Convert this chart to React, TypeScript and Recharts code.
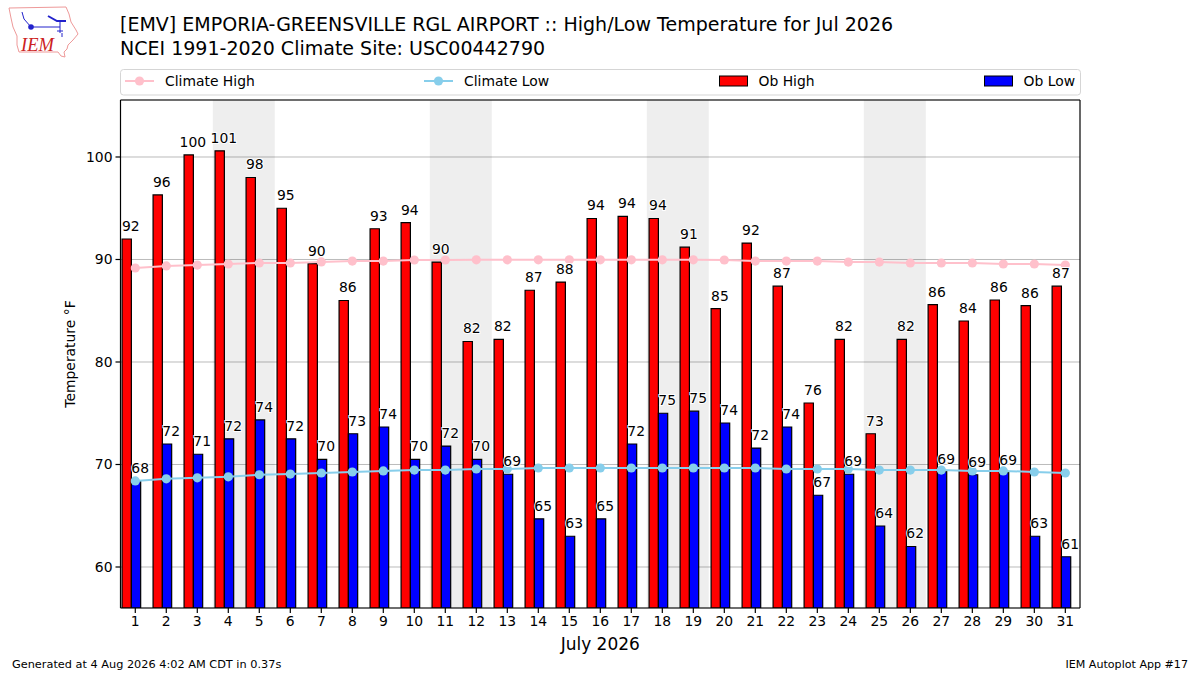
import {
  Bar,
  CartesianGrid,
  ComposedChart,
  LabelList,
  Line,
  ReferenceArea,
  XAxis,
  YAxis,
} from "recharts";

const days = [1, 2, 3, 4, 5, 6, 7, 8, 9, 10, 11, 12, 13, 14, 15, 16, 17, 18, 19, 20, 21, 22, 23, 24, 25, 26, 27, 28, 29, 30, 31];
const obHigh = [92, 96.3, 100.2, 100.6, 98, 95, 89.6, 86, 93, 93.6, 89.75, 82, 82.2, 87, 87.8, 94, 94.2, 94, 91.2, 85.2, 91.6, 87.4, 76, 82.2, 73, 82.2, 85.6, 84, 86.05, 85.5, 87.4];
const obLow = [68.4, 72, 71, 72.5, 74.35, 72.5, 70.5, 73, 73.66, 70.5, 71.8, 70.5, 69.05, 64.7, 63, 64.7, 72, 75, 75.2, 74.05, 71.6, 73.66, 67, 69.05, 64, 62, 69.3, 69, 69.2, 63, 61];
const highLabels = [92, 96, 100, 101, 98, 95, 90, 86, 93, 94, 90, 82, 82, 87, 88, 94, 94, 94, 91, 85, 92, 87, 76, 82, 73, 82, 86, 84, 86, 86, 87];
const lowLabels = [68, 72, 71, 72, 74, 72, 70, 73, 74, 70, 72, 70, 69, 65, 63, 65, 72, 75, 75, 74, 72, 74, 67, 69, 64, 62, 69, 69, 69, 63, 61];
const climateHigh = [89.17, 89.37, 89.46, 89.56, 89.66, 89.66, 89.76, 89.85, 89.85, 89.95, 89.95, 89.97, 89.97, 89.97, 89.97, 89.97, 89.97, 89.97, 89.97, 89.95, 89.85, 89.85, 89.85, 89.75, 89.75, 89.66, 89.66, 89.66, 89.56, 89.56, 89.46];
const climateLow = [68.4, 68.6, 68.7, 68.8, 69.0, 69.07, 69.17, 69.27, 69.37, 69.46, 69.46, 69.56, 69.56, 69.66, 69.66, 69.66, 69.66, 69.66, 69.66, 69.66, 69.66, 69.56, 69.56, 69.56, 69.46, 69.46, 69.46, 69.37, 69.37, 69.27, 69.17];
const weekends = [[3.5, 5.5], [10.5, 12.5], [17.5, 19.5], [24.5, 26.5]];
const yTicks = [60, 70, 80, 90, 100];

const xDomain = [0.523, 31.473];
const yDomain = [56, 105.56];
const FONT = "'DejaVu Sans', sans-serif";

const table = days.map((day, i) => ({
  day,
  obHigh: obHigh[i],
  obLow: obLow[i],
  highLabel: highLabels[i],
  lowLabel: lowLabels[i],
  climateHigh: climateHigh[i],
  climateLow: climateLow[i],
}));

// bars sit a little left of the day tick in the original
const barCenter = (d: any) => d.day - 0.12;

function BarLabel(props: any) {
  const { x, y, width, value } = props;
  return (
    <text
      x={x + width - 0.5}
      y={y - 8}
      textAnchor="middle"
      fontSize={13.9}
      fontFamily={FONT}
      fill="#000"
      stroke="#fff"
      strokeWidth={2}
      paintOrder="stroke"
    >
      {value}
    </text>
  );
}

function YTitle() {
  return (
    <text
      x={75}
      y={354}
      transform="rotate(-90 75 354)"
      textAnchor="middle"
      fontSize={13.9}
      fontFamily={FONT}
      fill="#000"
    >
      Temperature °F
    </text>
  );
}

function Logo() {
  return (
    <svg width={90} height={62} style={{ position: "absolute", left: 0, top: 0 }}>
      <path
        d="M9 8 L66 7 L69 14 L71 22 L76 30 L78 34 L73 40 L68 45 L67 49 L64 52 L65 57 L61 56 L58 52 L19 52 L17 45 L17 36 L13 27 L11 18 Z"
        fill="none"
        stroke="#ee9999"
        strokeWidth={1}
      />
      <g stroke="#2222cc" fill="none" strokeWidth={1}>
        <path d="M22 12 L24 19 L31 27 L60 27" />
        <path d="M48 16 L57 21 L66 21" strokeWidth={2} />
        <path d="M60 21 L60 33 M57 31 L63 31 M62 33 L62 37" />
      </g>
      <circle cx={31} cy={27} r={2.8} fill="#2222cc" />
      <text x={21} y={51} fontFamily="'Liberation Serif', serif" fontStyle="italic" fontSize={18.5} fill="#cc2222">
        IEM
      </text>
    </svg>
  );
}

function LegendLine({ x, color, label }: { x: number; color: string; label: string }) {
  return (
    <>
      <line x1={x} x2={x + 29} y1={12} y2={12} stroke={color} strokeWidth={2} />
      <circle cx={x + 14.5} cy={12} r={4.6} fill={color} />
      <text x={x + 40} y={17} fontSize={13.9} fontFamily={FONT} fill="#000">
        {label}
      </text>
    </>
  );
}

function LegendBar({ x, color, label }: { x: number; color: string; label: string }) {
  return (
    <>
      <rect x={x} y={7} width={28} height={10} fill={color} stroke="#000" strokeWidth={1} />
      <text x={x + 39} y={17} fontSize={13.9} fontFamily={FONT} fill="#000">
        {label}
      </text>
    </>
  );
}

export default function App() {
  return (
    <div style={{ position: "absolute", left: 0, top: 0, width: 1200, height: 675, background: "#fff", fontFamily: FONT }}>
      <Logo />
      <div style={{ position: "absolute", left: 120, top: 13, fontSize: 19.03, lineHeight: "23.5px", whiteSpace: "nowrap", color: "#000" }}>
        [EMV] EMPORIA-GREENSVILLE RGL AIRPORT :: High/Low Temperature for Jul 2026
        <br />
        NCEI 1991-2020 Climate Site: USC00442790
      </div>

      <svg width={962} height={27} style={{ position: "absolute", left: 120, top: 69 }}>
        <rect x={0.5} y={0.5} width={960} height={25.5} rx={3} fill="#fff" stroke="#d5d5d5" />
        <LegendLine x={5} color="#FFC0CB" label="Climate High" />
        <LegendLine x={304} color="#87CEEB" label="Climate Low" />
        <LegendBar x={599.5} color="#FF0000" label="Ob High" />
        <LegendBar x={864.5} color="#0000FF" label="Ob Low" />
      </svg>

      <ComposedChart
        width={1200}
        height={675}
        data={table}
        barSize={9.3}
        barGap={0}
        margin={{ top: 99, right: 119, bottom: 0, left: 0 }}
        style={{ position: "absolute", left: 0, top: 0 }}
      >
        {weekends.map(([a, b]) => (
          <ReferenceArea key={a} xAxisId="days" x1={a} x2={b} fill="#000" fillOpacity={0.068} stroke="none" ifOverflow="visible" />
        ))}
        <CartesianGrid vertical={false} stroke="#aaaaaa" strokeWidth={0.8} />
        <XAxis
          xAxisId="days"
          dataKey="day"
          type="number"
          domain={xDomain}
          ticks={days}
          interval={0}
          height={67}
          tickSize={5}
          tickMargin={3}
          tick={{ fontSize: 13.9, fontFamily: FONT, fill: "#000" }}
          stroke="#000"
          strokeWidth={1.2}
          label={{ value: "July 2026", position: "insideBottom", offset: 25, fontSize: 17, fontFamily: FONT, fill: "#000" }}
        />
        <XAxis
          xAxisId="bars"
          orientation="top"
          dataKey={barCenter}
          type="number"
          domain={xDomain}
          height={1}
          tick={false}
          tickLine={false}
          stroke="#000"
          strokeWidth={1.2}
        />
        <YAxis
          domain={yDomain}
          ticks={yTicks}
          width={120.5}
          tickSize={5}
          tickMargin={3}
          tick={{ fontSize: 13.9, fontFamily: FONT, fill: "#000" }}
          stroke="#000"
          strokeWidth={1.2}
          allowDataOverflow
          label={<YTitle />}
        />
        <YAxis
          yAxisId="right"
          orientation="right"
          domain={yDomain}
          width={1}
          tick={false}
          tickLine={false}
          stroke="#000"
          strokeWidth={1.2}
        />
        <Bar xAxisId="bars" dataKey="obHigh" fill="#FF0000" stroke="#000" strokeWidth={1.2} isAnimationActive={false}>
          <LabelList dataKey="highLabel" content={BarLabel} />
        </Bar>
        <Bar xAxisId="bars" dataKey="obLow" fill="#0000FF" stroke="#000" strokeWidth={1.2} isAnimationActive={false}>
          <LabelList dataKey="lowLabel" content={BarLabel} />
        </Bar>
        <Line
          xAxisId="days"
          dataKey="climateHigh"
          stroke="#FFC0CB"
          strokeWidth={2}
          dot={{ r: 4.6, fill: "#FFC0CB", stroke: "#FFC0CB", strokeWidth: 0, fillOpacity: 1 }}
          isAnimationActive={false}
        />
        <Line
          xAxisId="days"
          dataKey="climateLow"
          stroke="#87CEEB"
          strokeWidth={2}
          dot={{ r: 4.6, fill: "#87CEEB", stroke: "#87CEEB", strokeWidth: 0, fillOpacity: 1 }}
          isAnimationActive={false}
        />
      </ComposedChart>

      <div style={{ position: "absolute", left: 12, top: 658, fontSize: 11.3, whiteSpace: "nowrap", color: "#000" }}>
        Generated at 4 Aug 2026 4:02 AM CDT in 0.37s
      </div>
      <div style={{ position: "absolute", right: 12, top: 658, fontSize: 11.1, whiteSpace: "nowrap", color: "#000" }}>
        IEM Autoplot App #17
      </div>
    </div>
  );
}
